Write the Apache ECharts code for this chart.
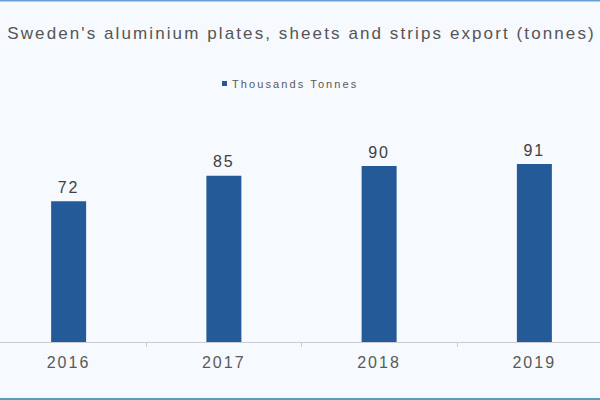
<!DOCTYPE html>
<html>
<head>
<meta charset="utf-8">
<script src="https://cdn.jsdelivr.net/npm/echarts@6/dist/echarts.min.js"></script>
<style>
  html, body { margin: 0; padding: 0; background: #f6f9fd; overflow: hidden; }
  #chart { position: absolute; left: -9px; top: 0; width: 621px; height: 400px; }
  #chart text { letter-spacing: 2.1px; }
</style>
</head>
<body>
<div id="chart"></div>
<script>
var years = ['2016', '2017', '2018', '2019'];
var exportKt = [72, 85, 90, 91];
var seriesName = 'Thousands Tonnes';
var titleText = "Sweden's aluminium plates, sheets and strips export (tonnes)";

var chart = echarts.init(document.getElementById('chart'), null, {renderer: 'svg'});

chart.setOption({
  backgroundColor: '#f6f9fd',
  animation: false,
  textStyle: { fontFamily: 'Liberation Sans, Arial, sans-serif' },
  title: {
    text: titleText,
    left: 'center',
    top: 20,
    textStyle: { fontSize: 17, fontWeight: 'normal', color: '#555555' }
  },
  legend: {
    data: [seriesName],
    left: 226,
    top: 73,
    icon: 'rect',
    itemWidth: 5,
    itemHeight: 5,
    itemGap: 4,
    textStyle: { fontSize: 11, color: '#595959' }
  },
  grid: { left: 0, right: 0, top: 146.5, bottom: 58, containLabel: false },
  xAxis: {
    type: 'category',
    data: years,
    axisLine: { lineStyle: { color: '#c9ccd0', width: 1 } },
    axisTick: { show: true, length: 5, lineStyle: { color: '#c9ccd0' } },
    axisLabel: { fontSize: 16, color: '#595959', margin: 12 }
  },
  yAxis: {
    type: 'value',
    min: 0,
    max: 100,
    show: false,
    splitLine: { show: false }
  },
  series: [{
    name: seriesName,
    type: 'bar',
    data: exportKt,
    barWidth: 35,
    itemStyle: { color: '#245a98' },
    label: { show: true, position: 'top', distance: 6, fontSize: 16, color: '#404040' }
  }],
  graphic: [
    { type: 'rect', left: 0, top: 0, shape: { width: 621, height: 1.5 }, style: { fill: '#6aa0d8' } },
    { type: 'rect', left: 0, top: 398, shape: { width: 621, height: 2 }, style: { fill: '#5a9db8' } }
  ]
});
</script>
</body>
</html>
